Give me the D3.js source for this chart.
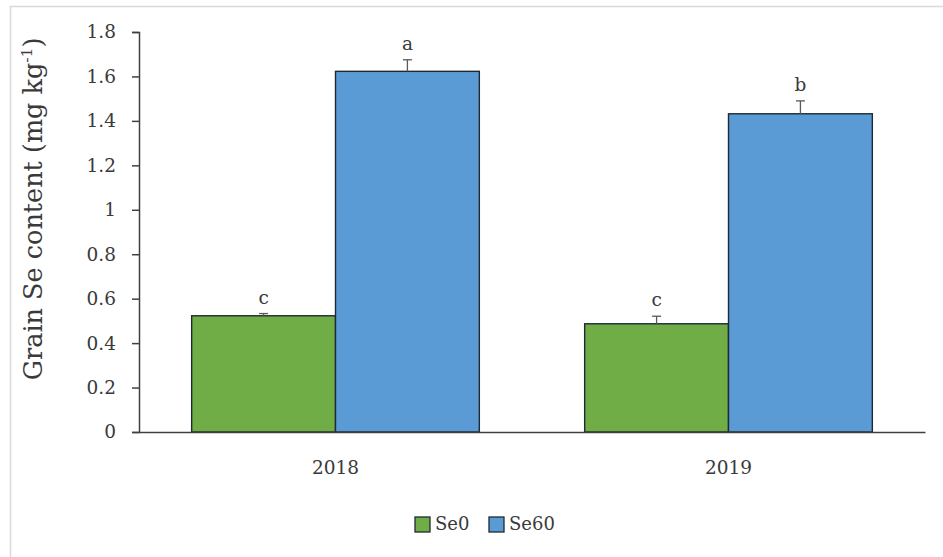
<!DOCTYPE html>
<html>
<head>
<meta charset="utf-8">
<script src="https://cdn.jsdelivr.net/npm/d3@7"></script>
<style>
  html, body { margin: 0; padding: 0; background: #fff; }
  svg { display: block; }
  text { font-family: "DejaVu Serif", "Liberation Serif", serif; fill: #3a3a3a; }
</style>
</head>
<body>
<svg id="chart" width="943" height="557"></svg>
<script>
// Grain selenium content by year and Se treatment
const years = ["2018", "2019"];
const seriesNames = ["Se0", "Se60"];
const se0Values = [0.523, 0.487];
const se60Values = [1.623, 1.432];
const se0Errors = [0.010, 0.034];
const se60Errors = [0.052, 0.058];
const se0Letters = ["c", "c"];
const se60Letters = ["a", "b"];
const yTicks = [0, 0.2, 0.4, 0.6, 0.8, 1, 1.2, 1.4, 1.6, 1.8];
const colors = ["#70AD47", "#5B9BD5"];

const series = [
  { name: seriesNames[0], values: se0Values, errors: se0Errors, letters: se0Letters, color: colors[0] },
  { name: seriesNames[1], values: se60Values, errors: se60Errors, letters: se60Letters, color: colors[1] }
];

const svg = d3.select("#chart");

// outer frame
svg.append("rect")
  .attr("x", 10.5).attr("y", 6.5)
  .attr("width", 960).attr("height", 600)
  .attr("fill", "none").attr("stroke", "#d9d9d9").attr("stroke-width", 1.5);

const plot = { left: 139, right: 925, top: 32, bottom: 432 };

const x0 = d3.scaleBand().domain(years).range([plot.left, plot.right]).paddingInner(0.268).paddingOuter(0.134);
const x1 = d3.scaleBand().domain(seriesNames).range([0, x0.bandwidth()]);
const y = d3.scaleLinear().domain([0, 1.8]).range([plot.bottom, plot.top]);

// bars
series.forEach(s => {
  const g = svg.append("g");
  g.selectAll("rect").data(years).join("rect")
    .attr("x", d => x0(d) + x1(s.name))
    .attr("y", (d, i) => y(s.values[i]))
    .attr("width", x1.bandwidth())
    .attr("height", (d, i) => y(0) - y(s.values[i]))
    .attr("fill", s.color)
    .attr("stroke", "#1e2a33").attr("stroke-width", 1.4);

  // error bars (upper only) and significance letters
  years.forEach((yr, i) => {
    const cx = x0(yr) + x1(s.name) + x1.bandwidth() / 2;
    const top = y(s.values[i] + s.errors[i]);
    g.append("line").attr("x1", cx).attr("x2", cx)
      .attr("y1", y(s.values[i])).attr("y2", top)
      .attr("stroke", "#595959").attr("stroke-width", 1.3);
    g.append("line").attr("x1", cx - 4.5).attr("x2", cx + 4.5)
      .attr("y1", top).attr("y2", top)
      .attr("stroke", "#595959").attr("stroke-width", 1.3);
    g.append("text").attr("x", cx).attr("y", top - 10)
      .attr("text-anchor", "middle").attr("font-size", 18.5)
      .text(s.letters[i]);
  });
});

// y axis
const yAxis = svg.append("g").attr("transform", `translate(${plot.left},0)`)
  .call(d3.axisLeft(y).tickValues(yTicks).tickSize(7).tickPadding(16).tickFormat(d => d3.format("")(d)));
yAxis.select(".domain").attr("stroke", "#404040").attr("stroke-width", 1.5);
yAxis.selectAll(".tick line").attr("stroke", "#404040").attr("stroke-width", 1.5);
yAxis.selectAll("text").attr("font-size", 18.5).attr("fill", "#3a3a3a");

// x axis baseline
const xAxis = svg.append("g").attr("transform", `translate(0,${plot.bottom})`)
  .call(d3.axisBottom(x0).tickSize(0).tickPadding(29));
xAxis.select(".domain").attr("stroke", "#404040").attr("stroke-width", 1.5);
xAxis.selectAll("text").attr("font-size", 18.5).attr("fill", "#3a3a3a");

// y axis title
const title = svg.append("text")
  .attr("transform", `translate(42,209) rotate(-90)`)
  .attr("text-anchor", "middle").attr("font-size", 25.5);
title.append("tspan").text("Grain Se content (mg kg");
title.append("tspan").attr("font-size", 15.5).attr("dy", -10).text("-1");
title.append("tspan").attr("dy", 10).text(")");

// legend
const legend = svg.append("g");
const legendX = [415, 489];
series.forEach((s, i) => {
  legend.append("rect")
    .attr("x", legendX[i]).attr("y", 517)
    .attr("width", 15).attr("height", 15)
    .attr("fill", s.color).attr("stroke", "#1e2a33").attr("stroke-width", 1.3);
  legend.append("text")
    .attr("x", legendX[i] + 20).attr("y", 530)
    .attr("font-size", 18).text(s.name);
});
</script>
</body>
</html>
